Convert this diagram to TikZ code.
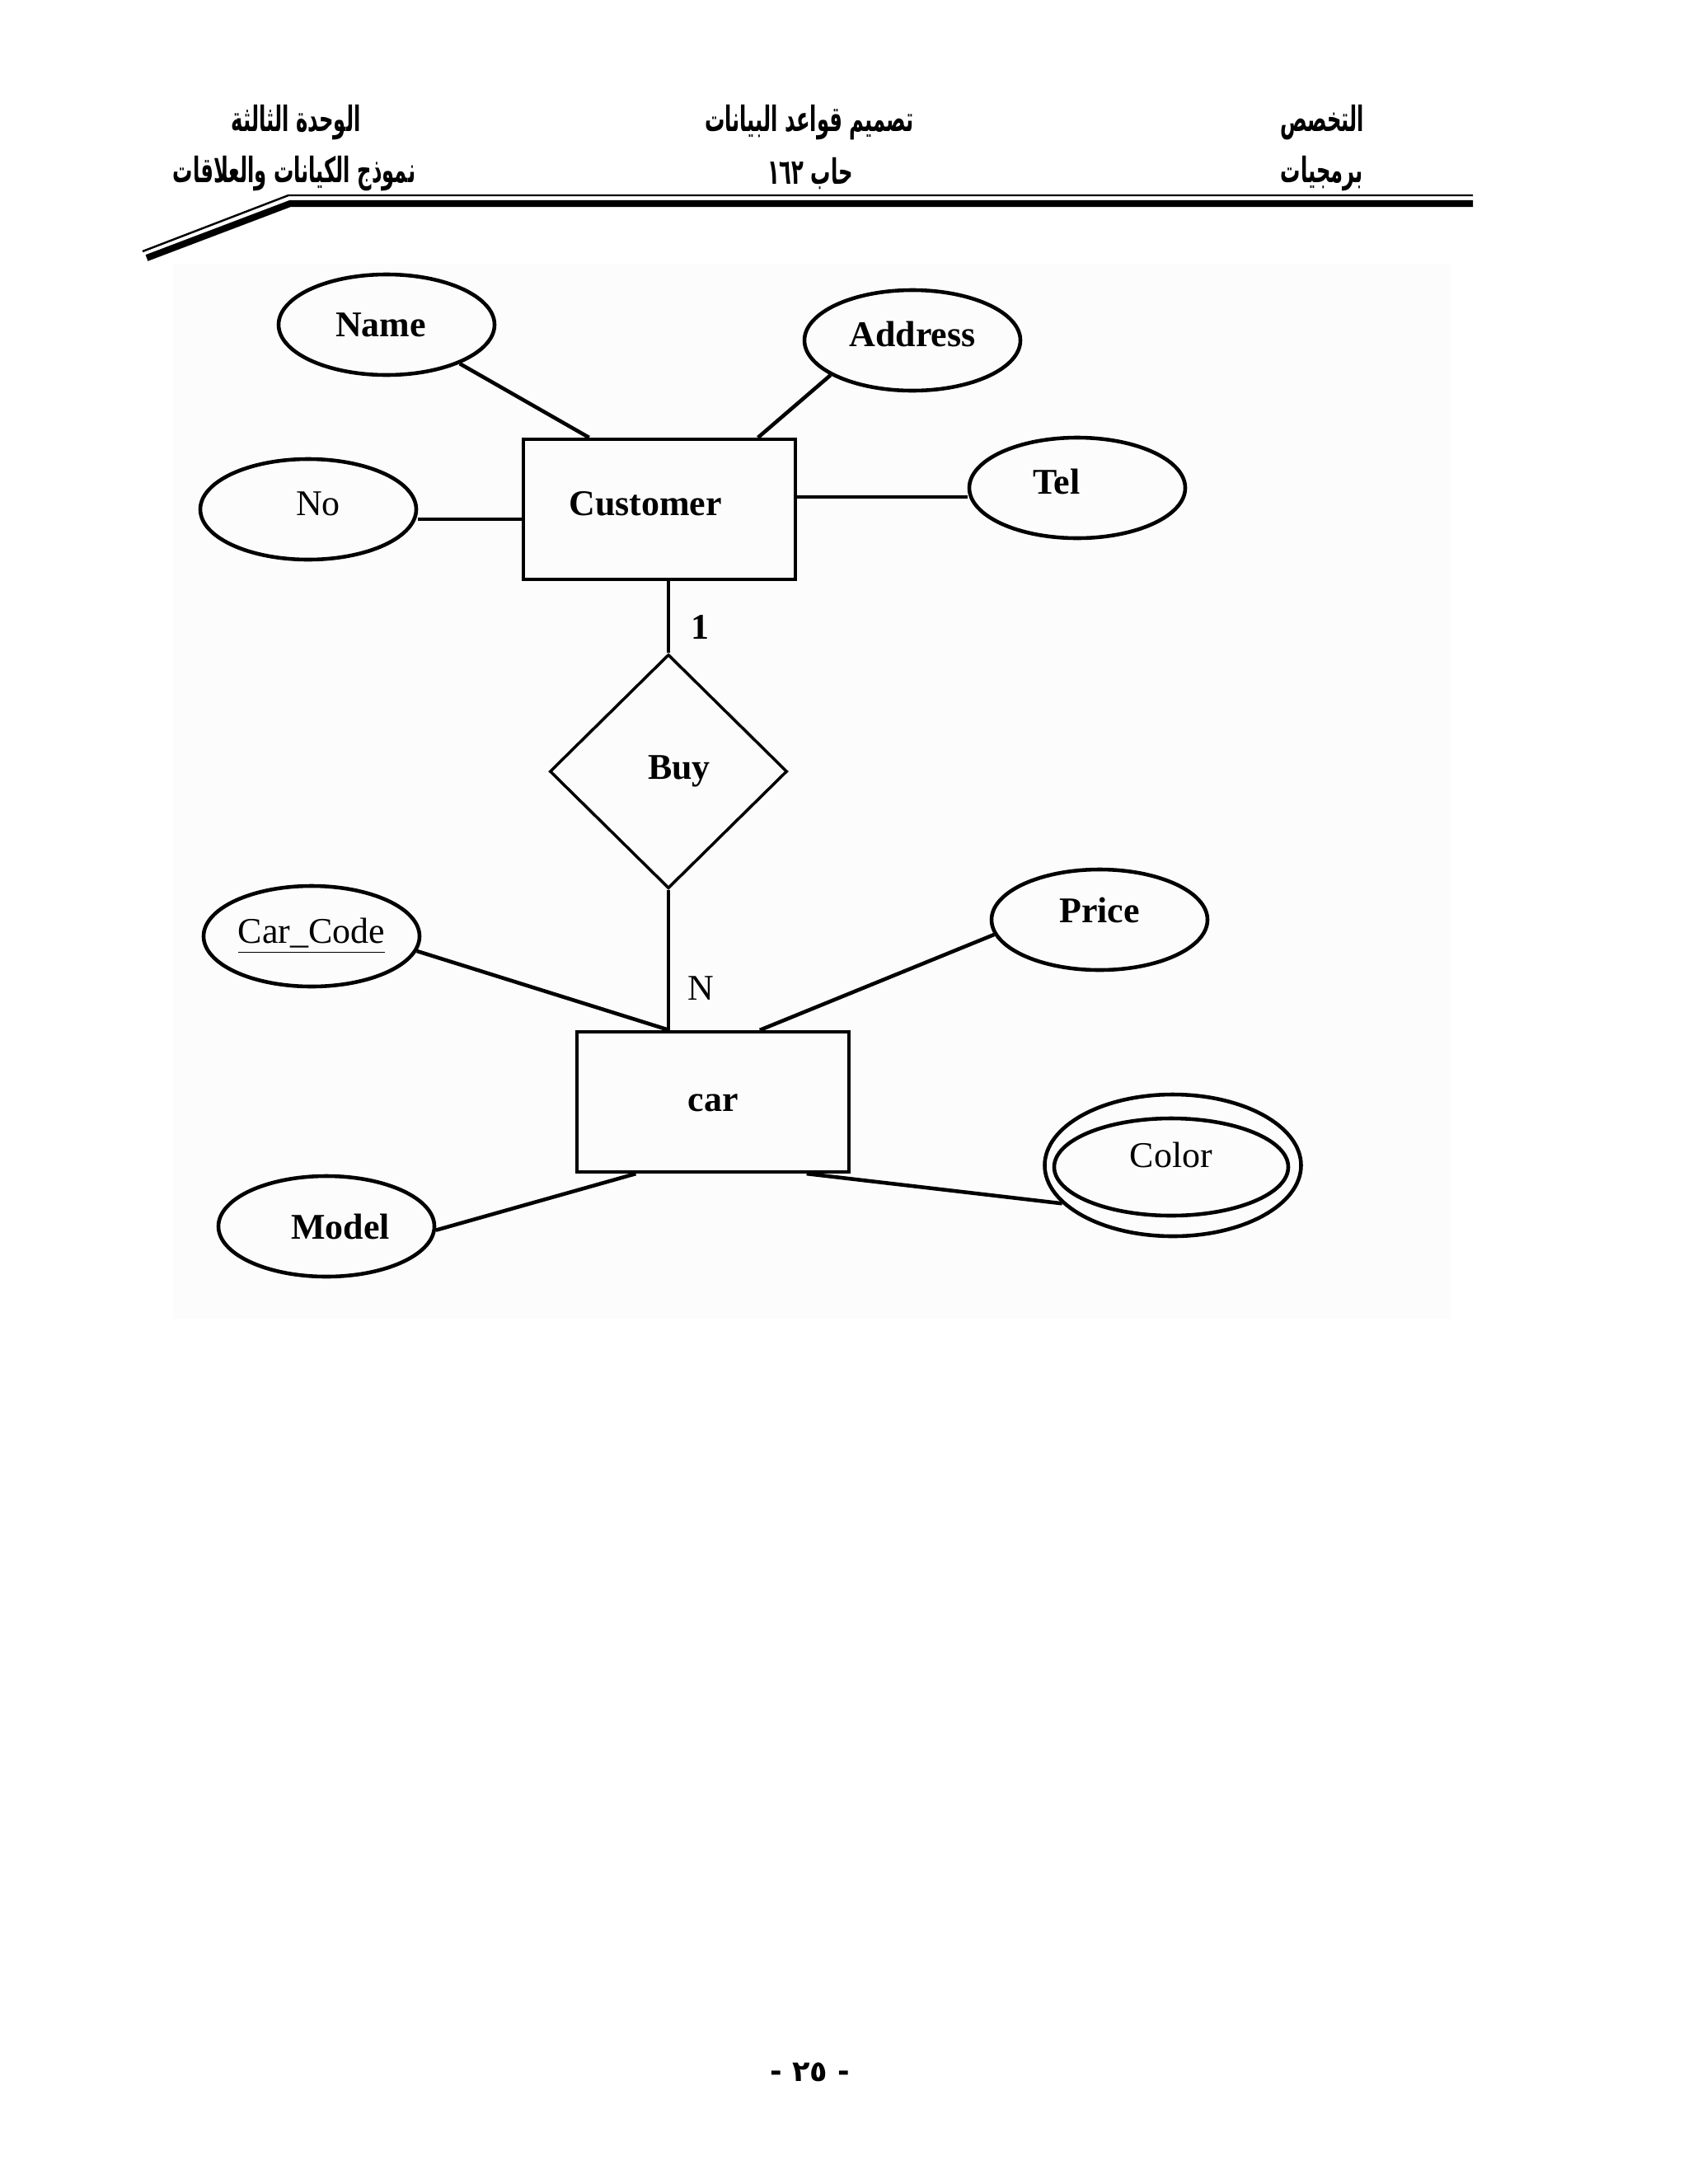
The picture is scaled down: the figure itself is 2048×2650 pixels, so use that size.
\documentclass[tikz,border=0pt]{standalone}
\usepackage{fontspec}
\setmainfont{Liberation Serif}
\newfontfamily\arabicfont[Script=Arabic]{DejaVu Sans}
\TeXXeTstate=1
\usetikzlibrary{shapes.geometric,calc}
\newcommand{\erfont}{\fontsize{12.5}{15}\selectfont}
\newcommand{\hdrtext}[1]{\scalebox{0.6}[1.05]{#1}}

\tikzset{
  attr/.style={draw,ellipse,line width=1.3pt,minimum width=26.2mm,minimum height=12.2mm,inner sep=0pt,font=\erfont},
  entity/.style={draw,rectangle,line width=1.2pt,minimum width=33mm,minimum height=17mm,font=\erfont\bfseries},
  rel/.style={draw,diamond,line width=1pt,minimum width=28.8mm,minimum height=28.4mm,inner sep=0pt,font=\erfont\bfseries},
  link/.style={line width=1.3pt},
  hdr/.style={font=\arabicfont\bfseries\fontsize{11.5}{13}\selectfont},
}

\begin{document}
\begin{tikzpicture}[x=0.1mm,y=-0.1mm]
\useasboundingbox (0,0) rectangle (2048,2650);
% page header
\node[hdr] (unit)  at (359,149)  {\hdrtext{\beginR الوحدة الثالثة\endR}};
\node[hdr] (topic) at (982,149)  {\hdrtext{\beginR تصميم قواعد البيانات\endR}};
\node[hdr] (spec)  at (1604,149) {\hdrtext{\beginR التخصص\endR}};
\node[hdr] (model) at (357,211)  {\hdrtext{\beginR نموذج الكيانات والعلاقات\endR}};
\node[hdr] (code)  at (983,211)  {\hdrtext{\beginR حاب ١٦٢\endR}};
\node[hdr] (prog)  at (1604,211) {\hdrtext{\beginR برمجيات\endR}};
\draw[line width=0.7pt] (1787,237) -- (350,237) -- (173,305);
\draw[line width=2.3pt] (1787,247) -- (352,247) -- (178,313);

% diagram area
\fill[black!1] (210,320) rectangle (1760,1600);

% customer side
\node[entity] (cust) at (800,618) {\raisebox{1.4mm}{Customer}\hspace*{3.4mm}};
\node[attr] (name) at (469,394)  {\textbf{Name}\hspace*{1.4mm}};
\node[attr] (addr) at (1107,413) {\raisebox{1.6mm}{\textbf{Address}}};
\node[attr] (no)   at (374,618)  {\hspace*{2.4mm}\raisebox{1.4mm}{No}};
\node[attr] (tel)  at (1307,592) {\raisebox{1.6mm}{\textbf{Tel}}\hspace*{5mm}};
\draw[link] (name.-28) -- ($(cust.north west)!0.245!(cust.north east)$);
\draw[link] (addr.203) -- ($(cust.north west)!0.858!(cust.north east)$);
\coordinate (nocon) at ($(cust.west)+(0,12)$);
\draw[link] (no.east |- nocon) -- (nocon);
\coordinate (telcon) at ($(cust.east)+(0,-15)$);
\draw[link] (telcon) -- (tel.west |- telcon);

% relationship
\node[rel] (buy) at (811,936) {\hspace*{2.6mm}Buy};
\draw[line width=1pt] (buy.north |- cust.south) -- (buy.north)
  node[midway,right=1.4mm,yshift=-1.2mm,font=\erfont\bfseries] {1};

% car side
\node[entity] (car) at (865,1337) {\raisebox{-2.4mm}{car}};
\draw[line width=1pt] (buy.south) -- (buy.south |- car.north)
  node[pos=0.7,right=1mm,font=\erfont] {N};
\node[attr] (carcode) at (378,1136) {\raisebox{0.6mm}{\underline{Car\_Code}}};
\node[attr] (price)   at (1334,1116) {\raisebox{2.4mm}{\textbf{Price}}};
\node[attr] (carmodel) at (396,1488) {\hspace*{3.4mm}\textbf{Model}};
\node[attr,minimum width=31.1mm,minimum height=17.2mm] (colorout) at (1423,1414) {};
\node[attr,minimum width=28.4mm,minimum height=11.8mm] (colorin) at (1421,1416) {\raisebox{3mm}{Color}};
\draw[link] (carcode.-8) -- ($(car.north west)!0.341!(car.north east)$);
\draw[link] (price.188) -- ($(car.north west)!0.67!(car.north east)$);
\draw[link] (carmodel.-2) -- ($(car.south west)!0.22!(car.south east)$);
\draw[link] (colorout.199) -- ($(car.south west)!0.84!(car.south east)$);

% page number
\node[hdr,font=\arabicfont\bfseries\fontsize{10}{12}\selectfont] (pgno) at (983,2514) {\beginL- ٢٥ -\endL};
\end{tikzpicture}
\end{document}
